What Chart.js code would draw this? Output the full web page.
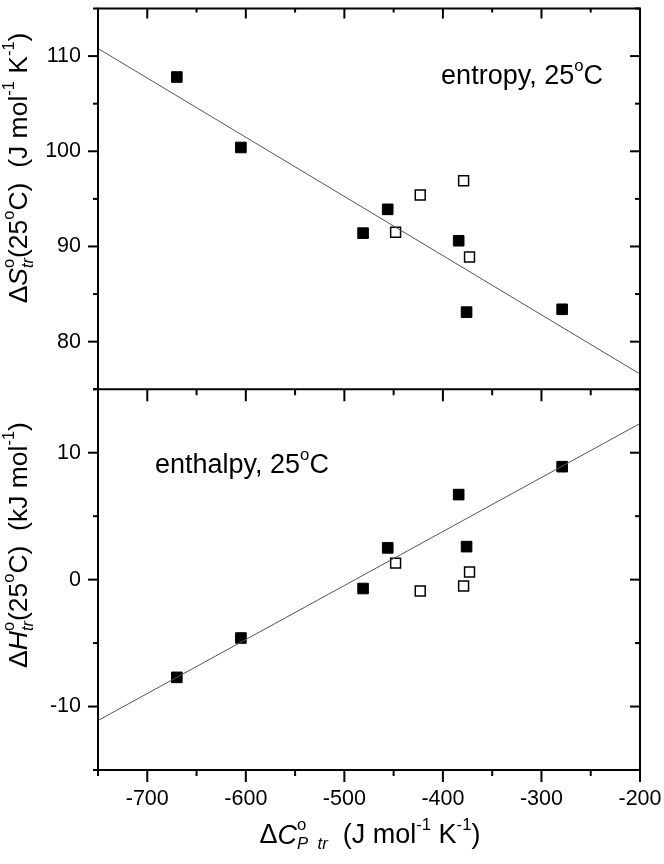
<!DOCTYPE html>
<html>
<head>
<meta charset="utf-8">
<script src="https://cdn.jsdelivr.net/npm/chart.js@4/dist/chart.umd.min.js"></script>
<style>
  html, body { margin: 0; padding: 0; background: #fff; }
  canvas { display: block; }
</style>
</head>
<body>
<canvas id="chart" width="664" height="864"></canvas>
<script>
// data
const cpFilled = [-670, -605, -481, -456, -384, -376, -279];
const dsFilled = [107.8, 100.4, 91.4, 93.9, 90.6, 83.1, 83.4];
const dhFilled = [-7.7, -4.6, -0.7, 2.5, 6.7, 2.6, 8.9];

const cpOpen = [-448, -423, -379, -373];
const dsOpen = [91.5, 95.4, 96.9, 88.9];
const dhOpen = [1.3, -0.9, -0.5, 0.6];

const fitX = [-750, -200];
const fitS = [110.8, 76.6];
const fitH = [-11.1, 12.3];

const xRange = [-750, -200];
const sRange = [75, 115];
const hRange = [-15, 15];

const FONT = "'Liberation Sans', Arial, sans-serif";

const pts = (xs, ys) => xs.map((x, i) => ({ x: x, y: ys[i] }));

// draws text with super/subscripts, centred on (x, y)
function drawRich(ctx, parts, x, y, size, rotate, align) {
  ctx.save();
  ctx.translate(x, y);
  if (rotate) ctx.rotate(-Math.PI / 2);
  ctx.fillStyle = '#000';
  ctx.textBaseline = 'middle';
  ctx.textAlign = 'left';
  const fontOf = p => {
    const s = p.s ? size * 0.62 : size;
    return (p.it ? 'italic ' : '') + s + 'px ' + FONT;
  };
  let total = 0;
  parts.forEach(p => {
    ctx.font = fontOf(p);
    if (!p.stay) total += ctx.measureText(p.t).width;
  });
  let cx = align === 'left' ? 0 : align === 'right' ? -total : -total / 2;
  parts.forEach(p => {
    ctx.font = fontOf(p);
    const dy = p.s === 'sup' ? -size * 0.38 : p.s === 'sub' ? size * 0.32 : 0;
    ctx.fillText(p.t, cx, dy);
    if (!p.stay) cx += ctx.measureText(p.t).width;
  });
  ctx.restore();
}

const titleS = [
  { t: 'Δ' }, { t: 'S', it: true }, { t: 'o', s: 'sup', stay: true }, { t: 'tr', s: 'sub', it: true },
  { t: '(25' }, { t: 'o', s: 'sup' }, { t: 'C)  (J mol' }, { t: '-1', s: 'sup' }, { t: ' K' }, { t: '-1', s: 'sup' }, { t: ')' }
];
const titleH = [
  { t: 'Δ' }, { t: 'H', it: true }, { t: 'o', s: 'sup', stay: true }, { t: 'tr', s: 'sub', it: true },
  { t: '(25' }, { t: 'o', s: 'sup' }, { t: 'C)  (kJ mol' }, { t: '-1', s: 'sup' }, { t: ')' }
];
const titleX = [
  { t: 'Δ' }, { t: 'C', it: true }, { t: 'o', s: 'sup', stay: true }, { t: 'P  tr', s: 'sub', it: true },
  { t: '  (J mol' }, { t: '-1', s: 'sup' }, { t: ' K' }, { t: '-1', s: 'sup' }, { t: ')' }
];
const noteS = [{ t: 'entropy, 25' }, { t: 'o', s: 'sup' }, { t: 'C' }];
const noteH = [{ t: 'enthalpy, 25' }, { t: 'o', s: 'sup' }, { t: 'C' }];

// frame with minor / major ticks like the original
const frame = {
  id: 'frame',
  afterDatasetsDraw(chart) {
    const { ctx, chartArea: a, scales } = chart;
    const x = scales.x, yS = scales.yS, yH = scales.yH;
    const mid = yS.bottom;
    ctx.save();
    ctx.strokeStyle = '#000';
    ctx.lineWidth = 2;
    const seg = (x1, y1, x2, y2) => {
      ctx.beginPath(); ctx.moveTo(x1, y1); ctx.lineTo(x2, y2); ctx.stroke();
    };
    ctx.strokeRect(a.left, a.top, a.right - a.left, a.bottom - a.top);
    seg(a.left, mid, a.right, mid);

    x.ticks.forEach(t => {
      const px = x.getPixelForValue(t.value);
      const maj = t.value % 100 === 0;
      seg(px, a.bottom, px, a.bottom + (maj ? 12 : 6));
      seg(px, mid, px, mid + (maj ? 12 : 6));
      seg(px, a.top, px, a.top + (maj ? 10 : 4));
    });
    [yS, yH].forEach(s => {
      s.ticks.forEach(t => {
        const py = s.getPixelForValue(t.value);
        const maj = t.value % 10 === 0;
        seg(a.left - (maj ? 10 : 5), py, a.left, py);
        seg(a.right - (maj ? 10 : 5), py, a.right, py);
      });
    });
    ctx.restore();

    drawRich(ctx, titleS, 20, 168, 26.5, true);
    drawRich(ctx, titleH, 20, 545, 26.5, true);
    drawRich(ctx, titleX, 370, 836, 27, false);
    drawRich(ctx, noteS, 603, 77, 27, false, 'right');
    drawRich(ctx, noteH, 155, 466, 27, false, 'left');
  }
};

const tickFont = { family: FONT, size: 21.5 };
const noPad = s => { s.paddingTop = 0; s.paddingBottom = 0; s.paddingLeft = 0; s.paddingRight = 0; };

new Chart(document.getElementById('chart'), {
  type: 'scatter',
  data: {
    datasets: [
      {
        data: pts(fitX, fitS), yAxisID: 'yS', showLine: true,
        borderColor: '#555', borderWidth: 1, pointRadius: 0
      },
      {
        data: pts(fitX, fitH), yAxisID: 'yH', showLine: true,
        borderColor: '#555', borderWidth: 1, pointRadius: 0
      },
      {
        data: pts(cpOpen, dsOpen), yAxisID: 'yS', pointStyle: 'rect',
        pointRadius: 7, backgroundColor: '#fff', borderColor: '#000', borderWidth: 1.5
      },
      {
        data: pts(cpOpen, dhOpen), yAxisID: 'yH', pointStyle: 'rect',
        pointRadius: 7, backgroundColor: '#fff', borderColor: '#000', borderWidth: 1.5
      },
      {
        data: pts(cpFilled, dsFilled), yAxisID: 'yS', pointStyle: 'rect',
        pointRadius: 7.5, backgroundColor: '#000', borderColor: '#000', borderWidth: 1
      },
      {
        data: pts(cpFilled, dhFilled), yAxisID: 'yH', pointStyle: 'rect',
        pointRadius: 7.5, backgroundColor: '#000', borderColor: '#000', borderWidth: 1
      }
    ]
  },
  options: {
    responsive: false,
    animation: false,
    events: [],
    layout: { padding: { left: 0, right: 24, top: 3, bottom: 0 } },
    plugins: { legend: { display: false }, tooltip: { enabled: false } },
    scales: {
      x: {
        type: 'linear', min: xRange[0], max: xRange[1],
        grid: { display: false, drawTicks: false },
        border: { display: false },
        ticks: {
          stepSize: 50, autoSkip: false, maxRotation: 0, padding: 16,
          color: '#000', font: tickFont,
          callback: v => (v % 100 === 0 ? String(v) : '')
        },
        afterFit: s => { s.height = 94; noPad(s); }
      },
      yH: {
        type: 'linear', position: 'left', stack: 'panels', stackWeight: 1,
        min: hRange[0], max: hRange[1],
        grid: { display: false, drawTicks: false },
        border: { display: false },
        ticks: {
          stepSize: 5, autoSkip: false, padding: 17, color: '#000', font: tickFont,
          callback: v => (v % 10 === 0 ? String(v) : '')
        },
        afterFit: s => { s.width = 98; noPad(s); }
      },
      yS: {
        type: 'linear', position: 'left', stack: 'panels', stackWeight: 1,
        min: sRange[0], max: sRange[1],
        grid: { display: false, drawTicks: false },
        border: { display: false },
        ticks: {
          stepSize: 5, autoSkip: false, padding: 17, color: '#000', font: tickFont,
          callback: v => (v % 10 === 0 ? String(v) : '')
        },
        afterFit: s => { s.width = 98; noPad(s); }
      }
    }
  },
  plugins: [frame]
});
</script>
</body>
</html>
